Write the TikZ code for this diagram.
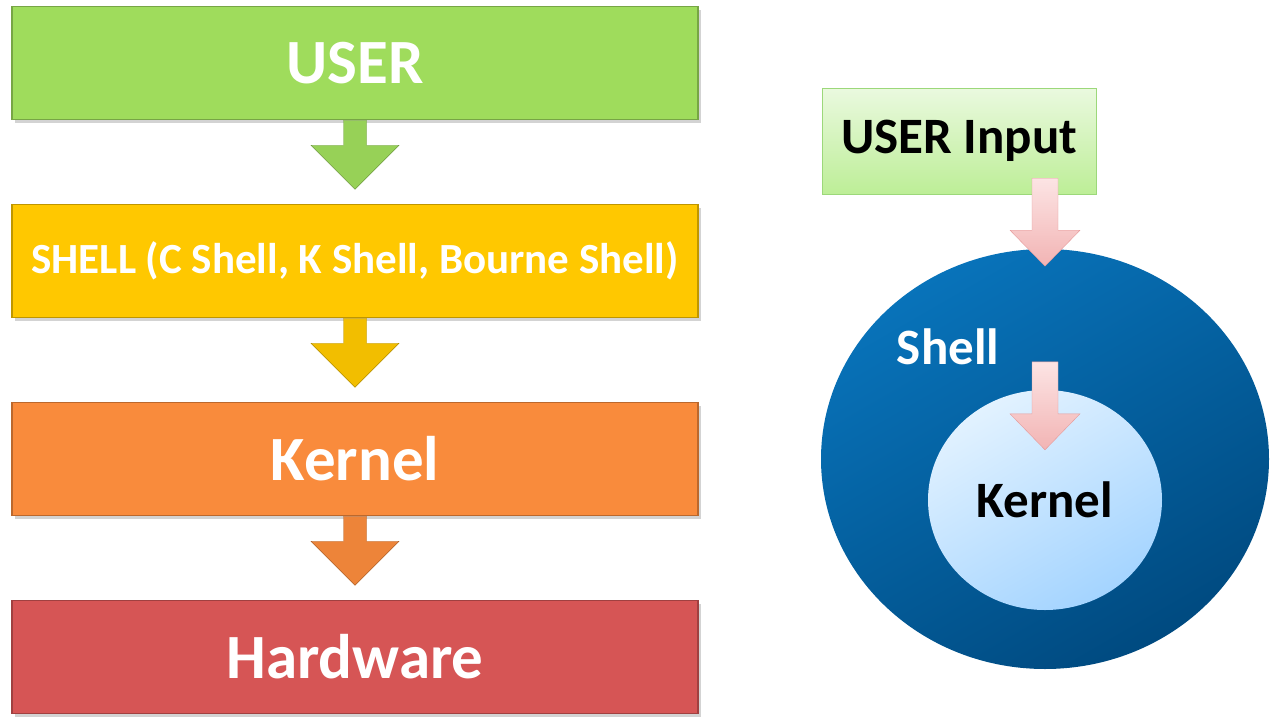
\documentclass[tikz,border=0pt]{standalone}
\usepackage{fontspec}
\setmainfont{Carlito}
\usetikzlibrary{shapes.geometric, shadows, calc}

\definecolor{usergreen}{HTML}{9FDC5C}
\definecolor{shellgold}{HTML}{FFC800}
\definecolor{kernelorange}{HTML}{F98B3C}
\definecolor{hwred}{HTML}{D65555}
\definecolor{inputtop}{HTML}{EAF9DF}
\definecolor{inputbot}{HTML}{BDEE97}
\definecolor{inputline}{HTML}{9CD87A}
\definecolor{pinktop}{HTML}{FCE4E4}
\definecolor{pinkbot}{HTML}{F2B4B4}
\definecolor{pinkline}{HTML}{E59A9A}
\definecolor{shelltop}{HTML}{0873BA}
\definecolor{shellbot}{HTML}{004A80}
\definecolor{kerneltop}{HTML}{E2F2FF}
\definecolor{kernelbot}{HTML}{A4D4FF}

\tikzset{
  stage/.style={draw=#1!75!black, fill=#1, line width=1.5pt,
    minimum width=686pt, minimum height=113pt, text=white,
    font=\bfseries\fontsize{63}{70}\selectfont,
    drop shadow={opacity=0.35, shadow xshift=3pt, shadow yshift=-3pt}},
  big/.style={font=\bfseries\fontsize{51}{58}\selectfont},
  pics/downarrow/.style n args={4}{code={
    \path[pic actions] (-#1,0) -- (-#1,#2) -- (-#3,#2) -- (0,{#2+#4})
      -- (#3,#2) -- (#1,#2) -- (#1,0) -- cycle;
  }},
}

\begin{document}
\begin{tikzpicture}[x=1pt, y=-1pt]

\useasboundingbox (0,0) rectangle (1280,720);

% layers, left
\node[stage=usergreen] (user) at (355,63) {USER};
\node[stage=shellgold, font=\bfseries\fontsize{43}{48}\selectfont] (shell) at (355,261) {SHELL (C Shell, K Shell, Bourne Shell)};
\node[stage=kernelorange] (kern) at (355,459) {Kernel};
\node[stage=hwred] (hw) at (355,657) {Hardware};

\pic[fill=usergreen!95!black, draw=usergreen!70!black] at (user.south) {downarrow={11.5}{25}{44}{44}};
\pic[fill=shellgold!95!black, draw=shellgold!70!black] at (shell.south) {downarrow={11.5}{25}{44}{44}};
\pic[fill=kernelorange!95!black, draw=kernelorange!70!black] at (kern.south) {downarrow={11.5}{25}{44}{44}};

% rings, right
\node[draw=inputline, top color=inputtop, bottom color=inputbot, minimum width=274pt,
  minimum height=106pt, big] (input) at (959,141) {USER Input};

\node[ellipse, top color=shelltop, bottom color=shellbot, shading angle=30,
  minimum width=448pt, minimum height=420pt] (ring) at (1045,459) {};
\node[big, text=white] (shelltxt) at (948,347) {Shell};
\node[ellipse, top color=kerneltop, bottom color=kernelbot, shading angle=30,
  minimum width=234pt, minimum height=220pt, big] (core) at (1045,500) {Kernel};

\pic[top color=pinktop, bottom color=pinkbot, draw=pinkline] at ($(input.south -| ring.north)+(0,-16)$) {downarrow={13}{52}{35}{36}};
\pic[top color=pinktop, bottom color=pinkbot, draw=pinkline] at ($(core.north)+(0,-28)$) {downarrow={13}{52}{35}{36}};

\end{tikzpicture}
\end{document}
